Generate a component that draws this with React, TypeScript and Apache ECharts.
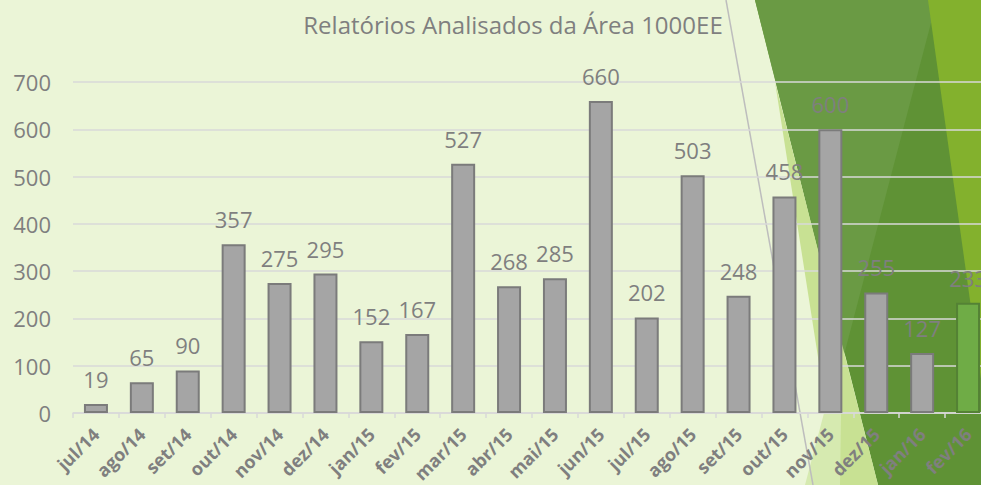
import React, { useEffect, useRef } from "react";
import * as echarts from "echarts";

const categories = [
  "jul/14", "ago/14", "set/14", "out/14", "nov/14", "dez/14",
  "jan/15", "fev/15", "mar/15", "abr/15", "mai/15", "jun/15",
  "jul/15", "ago/15", "set/15", "out/15", "nov/15", "dez/15",
  "jan/16", "fev/16",
];
const values = [19, 65, 90, 357, 275, 295, 152, 167, 527, 268, 285, 660, 202, 503, 248, 458, 600, 255, 127, 233];
const highlightIndex = 19;
const yTicks = { min: 0, max: 700, interval: 100 };
const title = "Relatórios Analisados da Área 1000EE";

const FONT = "'Open Sans', 'Noto Sans', sans-serif";
const GRAY = "#7f7f7f";

export default function App() {
  const ref = useRef<HTMLDivElement>(null);
  useEffect(() => {
    if (!ref.current) return;
    const chart = echarts.init(ref.current, undefined, { renderer: "svg" });
    const data = values.map((v, i) =>
      i === highlightIndex
        ? { value: v, itemStyle: { color: "#6fac46", borderColor: "#548235" } }
        : v
    );
    chart.setOption({
      animation: false,
      backgroundColor: "#ebf5d7",
      textStyle: { fontFamily: FONT },
      title: {
        text: title,
        left: 508,
        top: 7,
        textAlign: "center",
        textStyle: { fontFamily: FONT, fontSize: 24, fontWeight: "normal", color: GRAY },
      },
      graphic: [
        { type: "polygon", z: -10, silent: true, shape: { points: [[755, 0], [1010, 0], [1010, 485], [878, 485]] }, style: { fill: "#5f9235" } },
        { type: "polygon", z: -9, silent: true, shape: { points: [[755, 0], [937, 0], [844, 355]] }, style: { fill: "#6a9a44" } },
        { type: "polygon", z: -8, silent: true, shape: { points: [[775, 82], [878, 485], [838, 485]] }, style: { fill: "#c8e193" } },
        { type: "polygon", z: -8, silent: true, shape: { points: [[842, 345], [840, 485], [805, 485]] }, style: { fill: "#d6eab0" } },
        { type: "polygon", z: -7, silent: true, shape: { points: [[928, 0], [1010, 0], [1010, 379], [981, 379]] }, style: { fill: "#83b12d" } },
        { type: "line", z: -6, silent: true, shape: { x1: 726, y1: 0, x2: 813, y2: 485 }, style: { stroke: "#bdbdbd", lineWidth: 1.5 } },
      ],
      grid: { left: 73, top: 82, width: 918, height: 331, containLabel: false, outerBoundsMode: "none" },
      xAxis: {
        type: "category",
        data: categories,
        boundaryGap: true,
        axisLine: { lineStyle: { color: "#d9d9d9", width: 1.5 } },
        axisTick: { show: true, length: 5, lineStyle: { color: "#d9d9d9", width: 1.5 } },
        axisLabel: {
          rotate: 45,
          interval: 0,
          margin: 18,
          fontSize: 18,
          fontWeight: "bold",
          color: GRAY,
          fontFamily: FONT,
        },
      },
      yAxis: {
        type: "value",
        min: yTicks.min,
        max: yTicks.max,
        interval: yTicks.interval,
        axisLine: { show: false },
        axisTick: { show: false },
        axisLabel: { margin: 22, fontSize: 22, color: GRAY, fontFamily: FONT },
        splitLine: { lineStyle: { color: "#d9d9d9", width: 1.5 } },
      },
      series: [
        {
          type: "bar",
          data,
          barWidth: 24,
          itemStyle: { color: "#a5a5a5", borderColor: "#7b7b7b", borderWidth: 2 },
          label: {
            show: true,
            position: "top",
            distance: 14,
            fontSize: 22,
            color: GRAY,
            fontFamily: FONT,
          },
        },
      ],
    });
    return () => chart.dispose();
  }, []);
  return (
    <div style={{ position: "fixed", left: 0, top: 0, width: 981, height: 485, overflow: "hidden" }}>
      <div ref={ref} style={{ width: 1010, height: 485 }} />
    </div>
  );
}
